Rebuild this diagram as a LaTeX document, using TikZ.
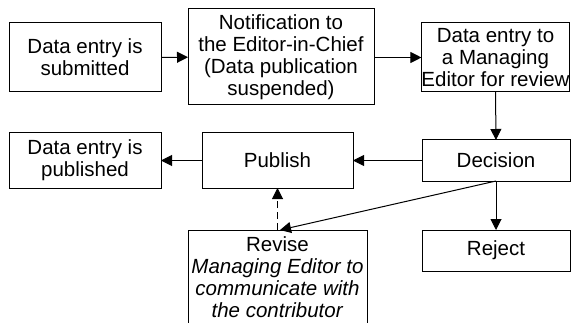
\documentclass[tikz,border=0pt]{standalone}
\usepackage{fontspec}
\setmainfont{Liberation Sans}
\usetikzlibrary{arrows.meta,calc}
\begin{document}
\begin{tikzpicture}[x=1pt,y=-1pt,
  box/.style={draw,line width=1pt,rectangle,inner sep=0pt,outer sep=0pt,
    align=center,font=\fontsize{20.5}{22}\selectfont},
  arr/.style={line width=1pt,-{Triangle[length=11pt,width=11pt]}},
  darr/.style={arr,dash pattern=on 7pt off 4pt}]
\useasboundingbox (0,0) rectangle (572,323);
% top row
\node[box,minimum width=152,minimum height=69] (sub) at (85,57.5) {Data entry is\\submitted};
\node[box,minimum width=186,minimum height=96] (note) at (281,57) {Notification to\\the Editor-in-Chief\\(Data publication\\suspended)};
\node[box,minimum width=147,minimum height=69] (rev) at (495.5,57.5) {Data entry to\\a Managing\\Editor for review};
% middle row
\node[box,minimum width=152,minimum height=55] (pubd) at (85,160.5) {Data entry is\\published};
\node[box,minimum width=151,minimum height=55] (pub) at (277.5,160.5) {Publish};
\node[box,minimum width=148,minimum height=41] (dec) at (496,160.5) {Decision};
% bottom row
\node[box,minimum width=179,minimum height=95] (revise) at (277.5,277.5) {Revise\\\textit{Managing Editor to}\\\textit{communicate with}\\\textit{the contributor}};
\node[box,minimum width=148,minimum height=41] (rej) at (496,250.5) {Reject};
% connectors
\draw[arr] (sub) -- (note);
\draw[arr] (note.east |- rev.west) -- (rev.west);
\draw[arr] (rev.south) -- (dec.north);
\draw[arr] (dec) -- (pub);
\draw[arr] (pub) -- (pubd);
\draw[arr] (dec.south) -- ($(revise.north)+(2.5,0)$);
\draw[arr] (dec.south) -- (rej.north);
\draw[darr] (revise.north) -- (pub.south);
\end{tikzpicture}
\end{document}
